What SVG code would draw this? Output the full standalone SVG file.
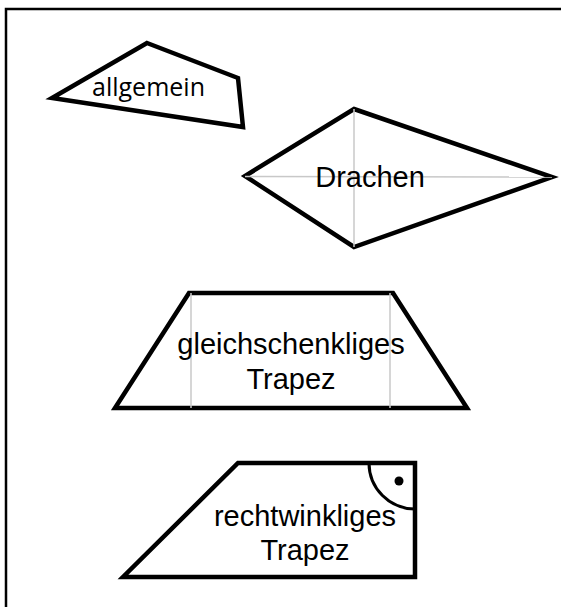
<svg xmlns="http://www.w3.org/2000/svg" width="561" height="607" viewBox="0 0 561 607">
<style>
.shape{fill:#fff;stroke:#000;stroke-width:4.5;stroke-linejoin:miter}
.aux{stroke:#c8c8c8;stroke-width:1.5;fill:none}
.lbl{font-family:"Liberation Sans",Arial,sans-serif;font-size:29px;fill:#000;text-anchor:middle}
.lbl2{font-family:"Open Sans","Noto Sans",sans-serif;font-size:25px;fill:#000;text-anchor:middle}
</style>
<rect width="561" height="607" fill="#fff"/>
<path d="M6,607 V9 H561" fill="none" stroke="#000" stroke-width="2.5"/>
<g id="allgemein">
<polygon class="shape" points="147,43 238,78 243,127 52,98"/>
<text class="lbl2" x="148.5" y="96">allgemein</text>
</g>
<g id="drachen">
<polygon class="shape" points="354,109 552,177 354,247 245,176"/>
<line class="aux" x1="245" y1="176.5" x2="552" y2="177"/>
<line class="aux" x1="354" y1="109" x2="354" y2="247"/>
<text class="lbl" x="370" y="187">Drachen</text>
</g>
<g id="gleichschenkliges-trapez">
<polygon class="shape" points="189,293 393,293 467,408 115,408"/>
<line class="aux" x1="191" y1="293" x2="191" y2="408"/>
<line class="aux" x1="390" y1="293" x2="390" y2="408"/>
<text class="lbl" x="291" y="354">gleichschenkliges</text>
<text class="lbl" x="291" y="389">Trapez</text>
</g>
<g id="rechtwinkliges-trapez">
<polygon class="shape" points="238,463 415,463 415,577 123,577"/>
<path d="M369,463 A46,46 0 0 0 415,509" fill="none" stroke="#000" stroke-width="3"/>
<circle cx="399" cy="481" r="4.5" fill="#000"/>
<text class="lbl" x="305" y="526" font-size="28">rechtwinkliges</text>
<text class="lbl" x="305" y="560" font-size="28">Trapez</text>
</g>
</svg>
